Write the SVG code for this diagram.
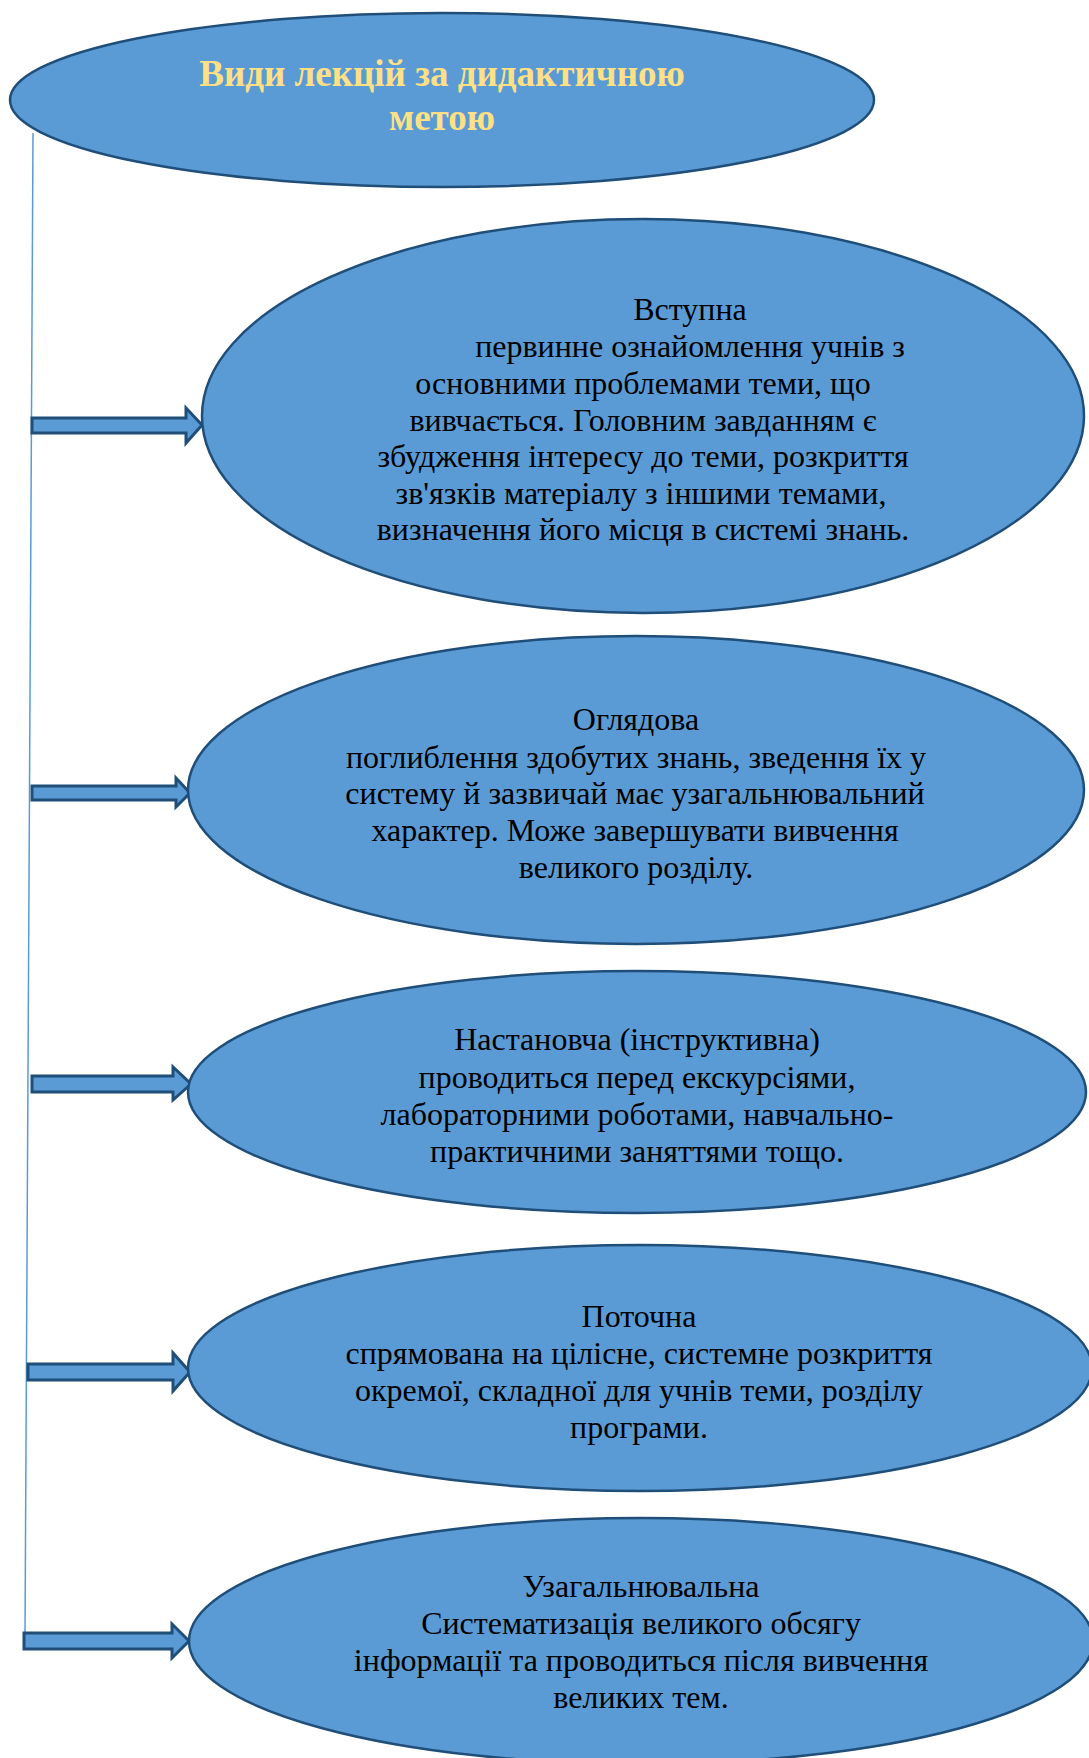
<svg xmlns="http://www.w3.org/2000/svg" width="1089" height="1758" viewBox="0 0 1089 1758">
<style>
.node{fill:#5B9BD5;stroke:#1F4E79;stroke-width:2.5}
.arrow{fill:#5B9BD5;stroke:#1F4E79;stroke-width:3;stroke-linejoin:miter}
.t{font-family:"Liberation Serif","Times New Roman",serif;font-size:32px;fill:#000;text-anchor:middle}
.title{font-family:"Liberation Serif","Times New Roman",serif;font-size:37px;font-weight:bold;fill:#FFE085;text-anchor:middle}
</style>
<rect width="1089" height="1758" fill="#fff"/>
<g id="connectors">
<line x1="33" y1="133" x2="25" y2="1635" stroke="#5B9BD5" stroke-width="1.5"/>
<polygon class="arrow" points="32,418 186,418 186,408 202,425 186,443 186,433 32,433"/>
<polygon class="arrow" points="32,786 176,786 176,778 190,793 176,807 176,800 32,800"/>
<polygon class="arrow" points="32,1076 173,1076 173,1067 191,1084 173,1100 173,1092 32,1092"/>
<polygon class="arrow" points="28,1364 173,1364 173,1353 190,1372 173,1391 173,1380 28,1380"/>
<polygon class="arrow" points="24,1633 172,1633 172,1624 189,1641 172,1658 172,1649 24,1649"/>
</g>
<g id="title">
<ellipse class="node" cx="442" cy="100" rx="432" ry="87"/>
<text class="title" x="442" y="86">Види лекцій за дидактичною</text>
<text class="title" x="442" y="130">метою</text>
</g>
<g id="vstupna">
<ellipse class="node" cx="643" cy="416" rx="441" ry="197"/>
<text class="t" x="690" y="320">Вступна</text>
<text class="t" x="690" y="357">первинне ознайомлення учнів з</text>
<text class="t" x="643" y="394">основними проблемами теми, що</text>
<text class="t" x="643" y="431">вивчається. Головним завданням є</text>
<text class="t" x="643" y="467">збудження інтересу до теми, розкриття</text>
<text class="t" x="641" y="504">зв'язків матеріалу з іншими темами,</text>
<text class="t" x="643" y="540">визначення його місця в системі знань.</text>
</g>
<g id="ohliadova">
<ellipse class="node" cx="636" cy="790" rx="448" ry="154"/>
<text class="t" x="636" y="730">Оглядова</text>
<text class="t" x="636" y="768">поглиблення здобутих знань, зведення їх у</text>
<text class="t" x="635" y="804">систему й зазвичай має узагальнювальний</text>
<text class="t" x="635" y="841">характер. Може завершувати вивчення</text>
<text class="t" x="636" y="878">великого розділу.</text>
</g>
<g id="nastanovcha">
<ellipse class="node" cx="637" cy="1092" rx="449" ry="121"/>
<text class="t" x="637" y="1050">Настановча (інструктивна)</text>
<text class="t" x="637" y="1088">проводиться перед екскурсіями,</text>
<text class="t" x="637" y="1125">лабораторними роботами, навчально-</text>
<text class="t" x="637" y="1162">практичними заняттями тощо.</text>
</g>
<g id="potochna">
<ellipse class="node" cx="640" cy="1368" rx="452" ry="123"/>
<text class="t" x="639" y="1327">Поточна</text>
<text class="t" x="639" y="1364">спрямована на цілісне, системне розкриття</text>
<text class="t" x="639" y="1401">окремої, складної для учнів теми, розділу</text>
<text class="t" x="639" y="1438">програми.</text>
</g>
<g id="uzahalniuvalna">
<ellipse class="node" cx="641" cy="1641" rx="452" ry="123"/>
<text class="t" x="641" y="1597">Узагальнювальна</text>
<text class="t" x="641" y="1634">Систематизація великого обсягу</text>
<text class="t" x="641" y="1671">інформації та проводиться після вивчення</text>
<text class="t" x="641" y="1708">великих тем.</text>
</g>
</svg>
